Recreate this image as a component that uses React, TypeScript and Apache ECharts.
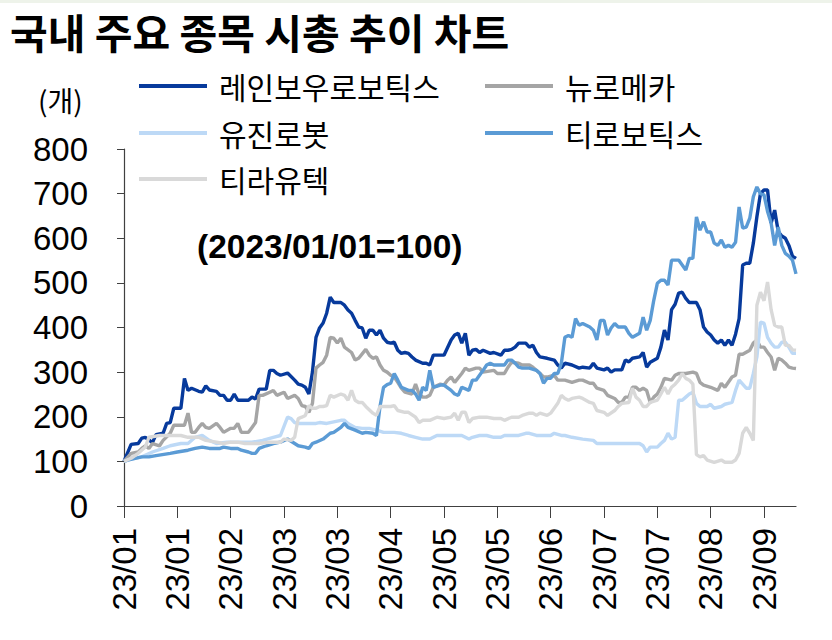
import React, { useEffect, useRef } from 'react';
import * as echarts from 'echarts';

const chartTitle = '국내 주요 종목 시총 추이 차트';
const unitLabel = '(개)';
const baseNote = '(2023/01/01=100)';
const tickLabels = ['23/01', '23/01', '23/02', '23/03', '23/03', '23/04', '23/05', '23/05', '23/06', '23/07', '23/07', '23/08', '23/09'];
const tickEvery = 15;
const tradingDays = 190;
const categories = Array.from({ length: tradingDays }, (_, i) => String(i));

const seriesNames = ['레인보우로보틱스', '뉴로메카', '유진로봇', '티로보틱스', '티라유텍'];
const seriesColors = ['#073a9c', '#a5a5a5', '#bdd9f6', '#5b9bd5', '#d9d9d9'];

const rainbow = [[0,100],[2,138],[4,140],[5,152],[6,154],[8,142],[9,160],[11,163],[12,185],[13,187],[14,219],[16,219],[17,286],[18,259],[19,264],[21,257],[22,255],[23,269],[24,260],[26,257],[27,248],[28,248],[29,237],[30,237],[31,251],[32,237],[35,237],[36,244],[37,240],[38,262],[40,262],[41,304],[42,304],[43,297],[44,293],[46,298],[48,282],[49,273],[50,271],[51,266],[52,251],[53,300],[54,378],[55,399],[56,410],[57,432],[58,468],[59,456],[61,456],[62,450],[63,439],[64,432],[65,416],[66,401],[67,399],[68,376],[69,394],[70,394],[71,383],[72,394],[73,376],[74,367],[75,365],[76,367],[77,349],[78,342],[79,344],[80,342],[81,334],[82,327],[84,320],[85,320],[86,316],[87,338],[90,338],[92,372],[93,383],[94,387],[95,365],[96,387],[97,338],[98,349],[99,351],[100,344],[101,349],[103,342],[104,344],[106,338],[107,349],[108,349],[109,351],[110,356],[111,365],[113,365],[114,356],[115,360],[116,344],[117,334],[119,331],[121,327],[122,316],[123,309],[124,320],[126,316],[128,309],[129,311],[131,309],[132,320],[133,309],[135,305],[136,309],[137,300],[138,305],[140,305],[141,327],[142,323],[143,331],[145,334],[146,344],[147,311],[148,322],[150,331],[151,356],[152,394],[153,372],[154,440],[155,452],[156,477],[157,479],[158,465],[159,456],[161,456],[162,440],[163,401],[164,390],[165,383],[166,372],[167,365],[168,372],[169,360],[170,372],[171,360],[172,385],[173,420],[174,540],[175,544],[176,544],[177,589],[178,648],[179,700],[180,708],[181,708],[182,634],[183,663],[184,615],[185,605],[186,600],[187,584],[188,560],[189,555]];

const neuromeka = [[0,100],[2,118],[4,121],[5,129],[6,135],[7,129],[8,140],[10,135],[11,147],[13,163],[14,181],[17,181],[18,208],[19,165],[20,165],[21,176],[22,185],[23,176],[24,174],[26,185],[27,176],[28,165],[30,174],[31,174],[32,185],[33,165],[35,165],[36,176],[37,187],[38,248],[39,248],[41,255],[42,259],[43,248],[45,255],[46,241],[48,248],[49,241],[50,225],[51,223],[52,210],[53,230],[54,309],[55,316],[56,322],[57,338],[58,378],[59,376],[60,365],[61,376],[62,356],[64,344],[65,327],[66,331],[68,351],[69,338],[70,331],[71,334],[72,316],[73,304],[74,300],[75,293],[76,289],[77,277],[78,264],[79,255],[81,251],[82,273],[83,251],[84,244],[85,244],[86,248],[87,266],[89,273],[90,271],[91,282],[92,289],[93,277],[95,297],[96,309],[97,304],[99,309],[100,309],[101,300],[104,304],[105,297],[107,297],[108,311],[109,322],[111,320],[112,316],[114,316],[115,311],[117,297],[118,289],[119,289],[121,293],[122,282],[124,282],[126,277],[128,282],[129,282],[131,275],[132,275],[133,264],[135,259],[136,248],[138,241],[139,232],[140,232],[141,244],[142,244],[143,266],[144,266],[145,259],[146,264],[147,259],[148,232],[149,244],[150,251],[151,266],[152,286],[154,282],[155,293],[156,297],[158,297],[160,300],[161,297],[162,277],[163,271],[165,266],[167,259],[168,275],[169,266],[171,289],[172,293],[173,340],[174,340],[176,349],[177,365],[178,372],[179,356],[180,356],[181,344],[182,334],[183,304],[184,331],[185,327],[186,320],[187,311],[188,309],[189,308]];

const yujin = [[0,100],[2,105],[5,110],[8,121],[11,129],[13,135],[16,140],[18,140],[20,154],[22,158],[24,147],[26,140],[29,143],[33,143],[36,143],[39,147],[42,154],[44,158],[46,199],[47,196],[48,187],[49,185],[52,185],[54,185],[55,187],[57,185],[58,187],[61,192],[62,192],[63,185],[65,176],[67,174],[69,174],[71,170],[73,165],[76,165],[78,163],[80,158],[82,154],[84,150],[86,150],[87,154],[88,158],[95,158],[97,150],[98,154],[100,158],[102,158],[104,154],[106,154],[107,158],[111,158],[113,163],[114,163],[116,158],[120,158],[121,163],[123,158],[124,158],[126,154],[129,150],[132,147],[133,140],[145,140],[146,135],[147,121],[148,132],[150,132],[151,140],[152,147],[153,163],[154,150],[155,154],[156,237],[157,237],[158,244],[159,251],[160,255],[161,230],[162,223],[164,223],[165,228],[166,219],[168,223],[169,228],[170,230],[171,232],[172,259],[173,282],[175,264],[176,264],[177,297],[178,334],[179,412],[180,410],[181,378],[182,365],[183,356],[184,356],[185,367],[186,367],[187,356],[188,342],[189,342]];

const tirobotics = [[0,100],[1,103],[5,110],[7,110],[9,113],[13,118],[15,121],[18,125],[20,129],[22,132],[24,129],[27,129],[28,132],[30,129],[32,129],[33,125],[35,121],[36,118],[37,118],[38,129],[40,135],[42,140],[44,143],[46,150],[48,140],[49,135],[51,132],[52,129],[53,140],[54,143],[56,150],[58,163],[59,165],[61,176],[62,185],[63,176],[65,170],[67,163],[68,165],[70,163],[71,158],[72,223],[73,266],[74,272],[75,275],[76,297],[77,282],[78,266],[80,259],[81,259],[82,251],[83,237],[84,266],[85,259],[86,304],[87,266],[89,271],[90,271],[92,259],[93,251],[94,248],[95,266],[97,259],[98,282],[99,282],[101,304],[102,316],[103,320],[104,316],[107,316],[108,327],[109,327],[110,320],[111,311],[112,309],[114,309],[116,304],[117,297],[118,275],[119,286],[120,286],[121,297],[122,297],[123,320],[124,378],[125,382],[126,378],[127,420],[128,405],[129,409],[131,401],[132,394],[133,372],[134,416],[135,416],[136,383],[137,399],[138,409],[139,401],[141,401],[142,387],[143,378],[145,387],[146,423],[147,394],[148,416],[149,461],[150,499],[151,506],[152,506],[153,495],[154,551],[156,551],[157,540],[158,529],[159,555],[160,555],[161,648],[162,618],[163,637],[164,614],[165,614],[166,589],[167,584],[168,596],[169,580],[170,584],[171,580],[172,591],[173,670],[174,623],[175,625],[176,645],[177,693],[178,715],[179,700],[180,697],[181,660],[182,634],[183,584],[184,625],[185,584],[186,566],[187,560],[188,551],[189,520]];

const tirautech = [[0,100],[2,107],[4,118],[6,132],[7,154],[10,158],[16,158],[18,154],[21,154],[23,147],[26,143],[28,140],[30,143],[32,143],[34,140],[38,140],[41,143],[44,143],[45,150],[47,147],[48,154],[49,196],[50,199],[51,203],[52,225],[53,219],[54,219],[55,223],[56,223],[57,225],[58,248],[59,244],[61,251],[62,248],[63,237],[64,259],[65,237],[66,232],[67,232],[68,223],[70,208],[71,203],[72,223],[75,223],[76,225],[77,214],[79,210],[80,210],[82,199],[83,187],[84,192],[86,192],[88,199],[90,196],[92,199],[93,208],[94,192],[95,210],[96,210],[97,187],[98,196],[100,199],[102,199],[104,196],[106,196],[107,192],[109,199],[111,199],[112,203],[114,208],[115,208],[116,203],[117,208],[119,203],[120,208],[121,219],[122,230],[123,248],[124,241],[125,237],[126,241],[128,244],[129,241],[131,232],[132,230],[133,214],[135,210],[136,203],[138,214],[139,223],[140,230],[142,232],[143,264],[144,244],[145,237],[146,223],[147,223],[148,232],[150,237],[151,251],[152,266],[153,251],[154,266],[155,273],[156,282],[157,297],[158,286],[159,282],[160,273],[161,115],[162,110],[163,113],[164,103],[166,98],[168,103],[169,98],[171,98],[172,103],[173,118],[174,163],[175,176],[176,163],[177,147],[178,450],[179,479],[180,460],[181,502],[182,440],[183,405],[184,401],[185,401],[186,360],[187,360],[188,350],[189,349]];

const seriesData = [rainbow, neuromeka, yujin, tirobotics, tirautech];

const numFont = "'Liberation Sans', Arial, sans-serif";
const krFont = "'Noto Sans CJK KR', 'Noto Sans', sans-serif";

export default function App() {
  const ref = useRef<HTMLDivElement>(null);
  useEffect(() => {
    if (!ref.current) return;
    const chart = echarts.init(ref.current, null, { renderer: 'svg' });
    const legendPos = [
      { left: 139, top: 70 },
      { left: 485, top: 70 },
      { left: 139, top: 117 },
      { left: 485, top: 117 },
      { left: 139, top: 163 },
    ];
    chart.setOption({
      animation: false,
      backgroundColor: '#ffffff',
      grid: { left: 124, top: 149, width: 672, height: 357, containLabel: false },
      legend: seriesNames.map((name, i) => ({
        data: [name],
        left: legendPos[i].left,
        top: legendPos[i].top,
        padding: 0,
        icon: 'rect',
        itemWidth: 68,
        itemHeight: 4,
        selectedMode: false,
        textStyle: { fontFamily: krFont, fontSize: 30, color: '#000', lineHeight: 32, padding: [0, 0, 0, 7] },
      })),
      xAxis: {
        type: 'category',
        data: categories,
        boundaryGap: false,
        axisLine: { show: true, lineStyle: { color: '#404040', width: 1.2 } },
        axisTick: { show: true, interval: tickEvery - 1, length: 12, lineStyle: { color: '#404040' } },
        axisLabel: {
          interval: tickEvery - 1,
          rotate: 90,
          margin: 22,
          fontFamily: numFont,
          fontSize: 33,
          color: '#000',
          formatter: (v: string) => {
            const n = Number(v);
            return n % tickEvery === 0 ? tickLabels[n / tickEvery] ?? '' : '';
          },
        },
        splitLine: { show: false },
      },
      yAxis: {
        type: 'value',
        min: 0,
        max: 800,
        interval: 100,
        axisLine: { show: true, lineStyle: { color: '#404040', width: 1.2 } },
        axisTick: { show: true, length: 7, lineStyle: { color: '#404040' } },
        axisLabel: { margin: 36, fontFamily: numFont, fontSize: 33, color: '#000' },
        splitLine: { show: false },
      },
      series: seriesNames.map((name, i) => ({
        name,
        type: 'line',
        data: seriesData[i],
        symbol: 'none',
        showSymbol: false,
        lineStyle: { color: seriesColors[i], width: 3.4 },
        itemStyle: { color: seriesColors[i] },
      })),
      graphic: [
        { type: 'rect', left: 0, top: 0, shape: { width: 832, height: 3 }, style: { fill: '#eef3ea' } },
        {
          type: 'text', x: 10, y: 31,
          style: { text: chartTitle, font: `bold 41px ${krFont}`, fill: '#000', verticalAlign: 'middle', align: 'left' },
        },
        {
          type: 'text', left: 38, top: 86,
          style: { text: unitLabel, font: `28px ${krFont}`, fill: '#000' },
        },
        {
          type: 'text', left: 197, top: 229,
          style: { text: baseNote, font: `bold 33.5px 'Liberation Sans', Arial, sans-serif`, fill: '#000' },
        },
      ],
    });
    return () => chart.dispose();
  }, []);
  return <div ref={ref} style={{ position: 'absolute', left: 0, top: 0, width: 832, height: 640 }} />;
}
